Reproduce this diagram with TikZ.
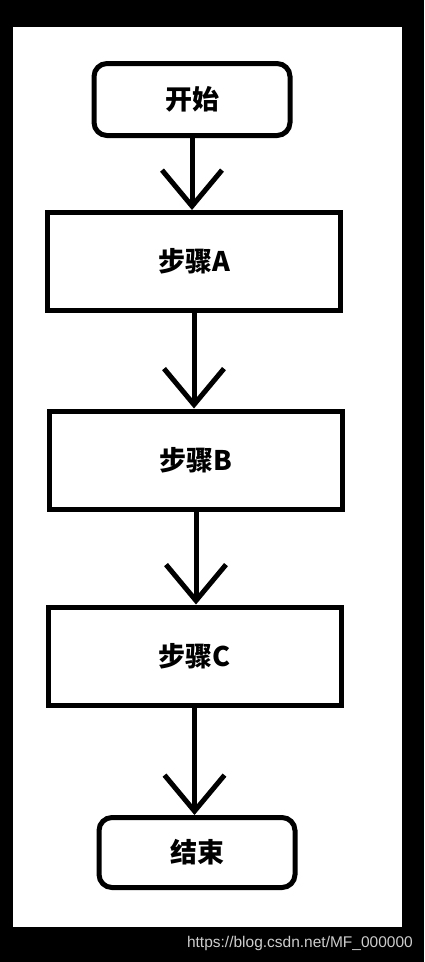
\documentclass[tikz,border=0pt]{standalone}
\usepackage{fontspec}
\setmainfont{Liberation Sans}
\newfontfamily\cjk{Noto Sans CJK SC}
\usetikzlibrary{arrows.meta}
\definecolor{markgray}{RGB}{205,205,205}
\tikzset{
  termbox/.style={draw,line width=5pt,rounded corners=13pt,minimum width=196pt,minimum height=72pt,font=\cjk\bfseries\fontsize{27pt}{27pt}\selectfont},
  procbox/.style={draw,line width=5pt,minimum width=293pt,minimum height=98pt,font=\cjk\bfseries\fontsize{27pt}{27pt}\selectfont},
  flow/.style={line width=5pt,-{Straight Barb[length=36pt,width=60pt]}}
}
\begin{document}
\begin{tikzpicture}[x=1pt,y=1pt,yscale=-1,xscale=1]
			%Background and panel
			\fill[black] (0,0) rectangle (424,962);
			\fill[white] (13,27) rectangle (402,927);
			
			%Rounded Rect
			\node[termbox] (start) at (192,99.5) {开始};
			%Rect
			\node[procbox] (stepA) at (194,261.5) {步骤A};
			%Rect
			\node[procbox] (stepB) at (196,460) {步骤B};
			%Rect
			\node[procbox] (stepC) at (194.5,656) {步骤C};
			%Rounded Rect
			\node[termbox,minimum height=70pt] (stop) at (197,852.5) {结束};
			
			%Straight Lines
			\draw[flow] (start.south) -- (start.south |- stepA.north);
			%Straight Lines
			\draw[flow] (stepA.south) -- (stepA.south |- stepB.north);
			%Straight Lines
			\draw[flow] (stepB.south) -- (stepB.south |- stepC.north);
			%Straight Lines
			\draw[flow] (stepC.south) -- (stepC.south |- stop.north);
			
			%Watermark
			\node[anchor=east,text=markgray,font=\fontsize{15.5pt}{15.5pt}\selectfont,inner sep=0pt] (mark) at (413,943) {https://blog.csdn.net/MF\_000000};
			
		\end{tikzpicture}
\end{document}
